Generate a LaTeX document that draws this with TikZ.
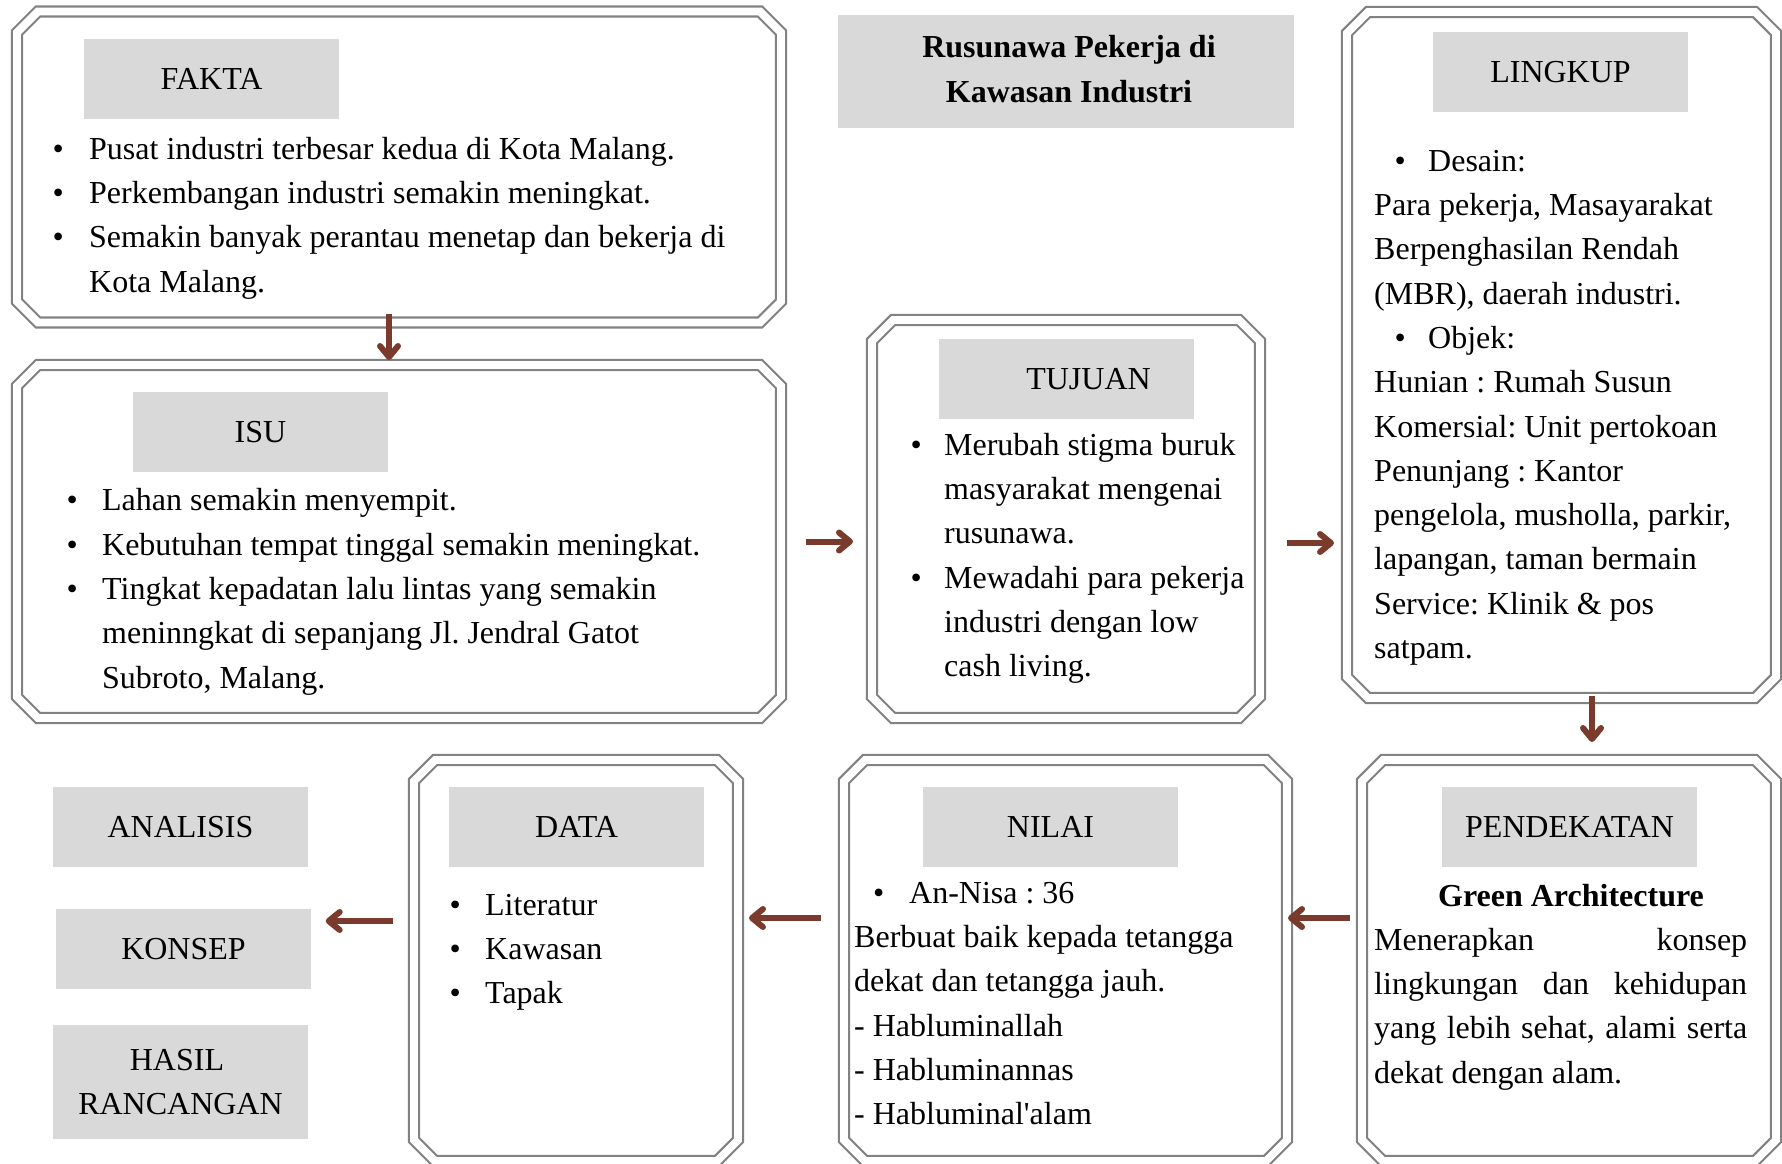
\documentclass[tikz,border=0pt]{standalone}
\usepackage{fontspec}
\setmainfont{Liberation Serif}[Ligatures=TeXOff]
\usetikzlibrary{arrows.meta}
\definecolor{framegray}{HTML}{828282}
\definecolor{headgray}{HTML}{D9D9D9}
\definecolor{flowbrown}{HTML}{7A3B2C}
\newcommand\bodyfont{\fontsize{32}{44.3}\selectfont\frenchspacing}
\newcommand\bul[1]{\makebox[#1][l]{\textbullet}}
% double outline with cut corners round a frame node
\newcommand\chamfer[1]{\draw[frameline] ([xshift=21pt]#1.north west) -- ([xshift=-21pt]#1.north east)
  -- ([yshift=-21pt]#1.north east) -- ([yshift=21pt]#1.south east) -- ([xshift=-21pt]#1.south east)
  -- ([xshift=21pt]#1.south west) -- ([yshift=21pt]#1.south west) -- ([yshift=-21pt]#1.north west) -- cycle;}
\tikzset{
  frame/.style={rectangle, inner sep=0pt, outer sep=0pt},
  frameline/.style={draw=framegray, line width=2.2pt, double=white, double distance=7.8pt},
  head/.style={fill=headgray, inner sep=0pt, minimum width=255pt,
    minimum height=80pt, font=\bodyfont, align=center},
  body/.style={anchor=north west, inner sep=0pt, font=\bodyfont, align=left},
  flow/.style={draw=flowbrown, line width=6pt,
    -{Straight Barb[round,length=11pt,width=18pt]}}
}
\begin{document}
\begin{tikzpicture}[x=1pt,y=-1pt]
\useasboundingbox (0,0) rectangle (1782,1163);
%
% frames
\node[frame, minimum width=764pt, minimum height=311pt] (fakta) at (399,167) {};
\node[frame, minimum width=764pt, minimum height=353pt] (isu) at (399,541.5) {};
\node[frame, minimum width=388pt, minimum height=398pt] (tujuan) at (1066,519) {};
\node[frame, minimum width=429pt, minimum height=686pt] (lingkup) at (1561.5,355) {};
\node[frame, minimum width=414pt, minimum height=401pt] (pendekatan) at (1569,960.5) {};
\node[frame, minimum width=443pt, minimum height=401pt] (nilai) at (1065.5,960.5) {};
\node[frame, minimum width=324pt, minimum height=401pt] (data) at (576,960.5) {};
\foreach \f in {fakta,isu,tujuan,lingkup,pendekatan,nilai,data} {\chamfer{\f}}
%
% headers
\node[head, minimum width=456pt, minimum height=113pt] (judul) at (1066,71.5) {};
\node[font=\bodyfont\bfseries, align=center, inner sep=0pt] (tjudul) at ([xshift=3pt,yshift=2.5pt]judul) {Rusunawa Pekerja di\\Kawasan Industri};
\node[head] (hfakta) at (211.5,79) {FAKTA};
\node[head] (hisu) at (260.5,432) {ISU};
\node[head] (htujuan) at (1066.5,379) {\hspace*{44pt}TUJUAN};
\node[head] (hlingkup) at (1560.5,72) {LINGKUP};
\node[head] (hpendekatan) at (1569.5,827) {PENDEKATAN};
\node[head] (hnilai) at (1050.5,827) {NILAI};
\node[head] (hdata) at (576.5,827) {DATA};
\node[head] (analisis) at (180.5,827) {ANALISIS};
\node[head] (konsep) at (183.5,949) {KONSEP};
\node[head, minimum height=114pt] (hasil) at (180.5,1082) {HASIL\hspace*{7pt}\\RANCANGAN};
%
% texts
\node[body] (tfakta) at (52.4,128) {\strut\bul{36.6pt}Pusat industri terbesar kedua di Kota Malang.\\
  \bul{36.6pt}Perkembangan industri semakin meningkat.\\
  \bul{36.6pt}Semakin banyak perantau menetap dan bekerja di\\
  \hspace*{36.6pt}Kota Malang.};
\node[body] (tisu) at (66.4,479.7) {\strut\bul{35.6pt}Lahan semakin menyempit.\\
  \bul{35.6pt}Kebutuhan tempat tinggal semakin meningkat.\\
  \bul{35.6pt}Tingkat kepadatan lalu lintas yang semakin\\
  \hspace*{35.6pt}meninngkat di sepanjang Jl. Jendral Gatot\\
  \hspace*{35.6pt}Subroto, Malang.};
\node[body] (ttujuan) at (910.4,424) {\strut\bul{33.6pt}Merubah stigma buruk\\
  \hspace*{33.6pt}masyarakat mengenai\\
  \hspace*{33.6pt}rusunawa.\\
  \bul{33.6pt}Mewadahi para pekerja\\
  \hspace*{33.6pt}industri dengan low\\
  \hspace*{33.6pt}cash living.};
\node[body] (tlingkup) at (1374,140) {\strut\hspace*{20.4pt}\bul{33.6pt}Desain:\\
  Para pekerja, Masayarakat\\
  Berpenghasilan Rendah\\
  (MBR), daerah industri.\\
  \hspace*{20.4pt}\bul{33.6pt}Objek:\\
  Hunian : Rumah Susun\\
  Komersial: Unit pertokoan\\
  Penunjang : Kantor\\
  pengelola, musholla, parkir,\\
  lapangan, taman bermain\\
  Service: Klinik \& pos\\
  satpam.};
\node[font=\bodyfont\bfseries, anchor=base, inner sep=0pt] (green) at (1571,906) {Green Architecture};
\node[body, text width=373pt, align=justify] (tpendekatan) at (1374,919) {\strut Menerapkan konsep\linebreak
  lingkungan dan kehidupan\linebreak
  yang lebih sehat, alami serta\linebreak
  dekat dengan alam.};
\node[body] (tnilai) at (854,872) {\strut\hspace*{19pt}\bul{36pt}An-Nisa : 36\\
  Berbuat baik kepada tetangga\\
  dekat dan tetangga jauh.\\
  - Habluminallah\\
  - Habluminannas\\
  - Habluminal'alam};
\node[body] (tdata) at (449.4,884) {\strut\bul{35.6pt}Literatur\\
  \bul{35.6pt}Kawasan\\
  \bul{35.6pt}Tapak};
%
% arrows
\draw[flow] ([xshift=-10pt,yshift=9pt]fakta.south) -- ([xshift=-10pt,yshift=5pt]isu.north);
\draw[flow] ([xshift=24.5pt]isu.east) -- ([xshift=-19pt,yshift=-22.5pt]tujuan.west);
\draw[flow] ([xshift=27pt,yshift=-24pt]tujuan.east) -- ([xshift=-13pt,yshift=-188pt]lingkup.west);
\draw[flow] ([xshift=30.5pt,yshift=2pt]lingkup.south) -- ([xshift=23pt,yshift=18pt]pendekatan.north);
\draw[flow] ([xshift=-12pt,yshift=42.5pt]pendekatan.west) -- ([xshift=1pt,yshift=42.5pt]nilai.east);
\draw[flow] ([xshift=-23pt,yshift=42.5pt]nilai.west) -- ([xshift=11pt,yshift=42.5pt]data.east);
\draw[flow] ([xshift=-21pt,yshift=39.5pt]data.west) -- ([xshift=14.5pt,yshift=28pt]konsep.east);
%
\end{tikzpicture}
\end{document}
